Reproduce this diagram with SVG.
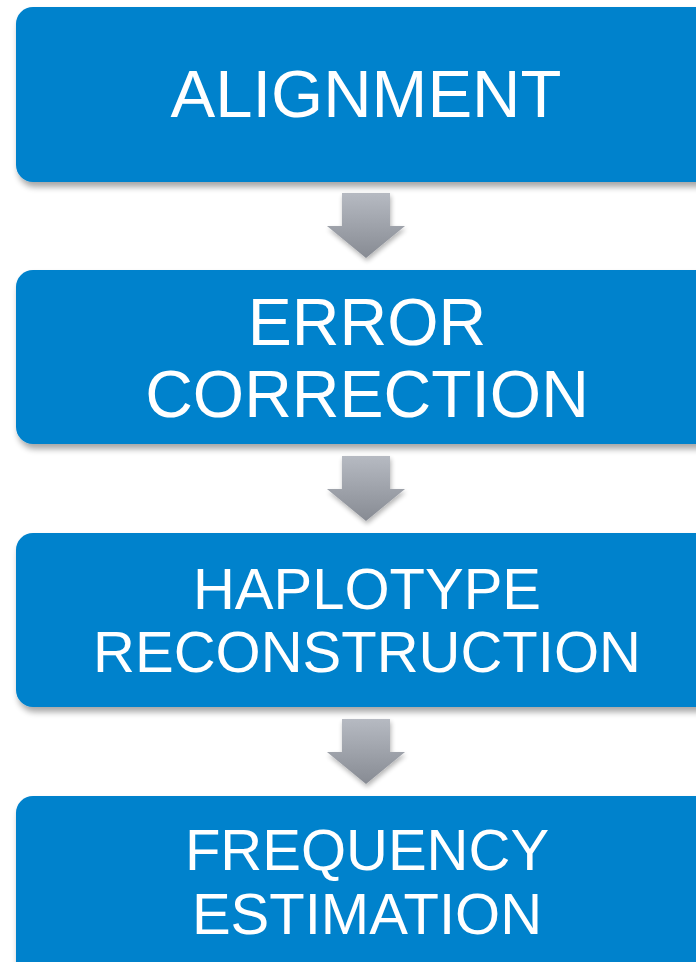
<svg xmlns="http://www.w3.org/2000/svg" width="696" height="962" viewBox="0 0 696 962">
<defs>
<filter id="sh" x="-10%" y="-10%" width="130%" height="140%">
<feGaussianBlur in="SourceAlpha" stdDeviation="3"/>
<feOffset dx="2" dy="5" result="b"/>
<feComponentTransfer><feFuncA type="linear" slope="0.35"/></feComponentTransfer>
<feMerge><feMergeNode/><feMergeNode in="SourceGraphic"/></feMerge>
</filter>
<filter id="ash" x="-30%" y="-30%" width="160%" height="160%">
<feGaussianBlur in="SourceAlpha" stdDeviation="2.5"/>
<feOffset dx="1" dy="3"/>
<feComponentTransfer><feFuncA type="linear" slope="0.3"/></feComponentTransfer>
<feMerge><feMergeNode/><feMergeNode in="SourceGraphic"/></feMerge>
</filter>
<linearGradient id="ag" x1="0" y1="0" x2="0" y2="1">
<stop offset="0" stop-color="#B6BAC2"/>
<stop offset="1" stop-color="#878B93"/>
</linearGradient>
</defs>
<style>
.box{fill:#0082CC;filter:url(#sh)}
.t{font-family:"Liberation Sans",Arial,sans-serif;fill:#FFFFFF;text-anchor:middle}
.arr{fill:url(#ag);filter:url(#ash)}
</style>
<rect width="696" height="962" fill="#FFFFFF"/>
<g id="connectors">
<path class="arr" d="M342,193 H390 V226 H405 L366,258 L327,226 H342 Z"/>
<path class="arr" d="M342,456 H390 V489 H405 L366,521 L327,489 H342 Z"/>
<path class="arr" d="M342,719 H390 V752 H405 L366,784 L327,752 H342 Z"/>
</g>
<g id="alignment">
<rect class="box" x="16" y="7" width="704" height="175" rx="17"/>
<text class="t" x="366" y="117" font-size="67">ALIGNMENT</text>
</g>
<g id="error-correction">
<rect class="box" x="16" y="270" width="704" height="174" rx="17"/>
<text class="t" x="367" y="345" font-size="66">ERROR</text>
<text class="t" x="367" y="417" font-size="66">CORRECTION</text>
</g>
<g id="haplotype-reconstruction">
<rect class="box" x="16" y="533" width="704" height="174" rx="17"/>
<text class="t" x="367" y="609" font-size="58">HAPLOTYPE</text>
<text class="t" x="367" y="672" font-size="58">RECONSTRUCTION</text>
</g>
<g id="frequency-estimation">
<rect class="box" x="16" y="796" width="704" height="200" rx="17"/>
<text class="t" x="367" y="870" font-size="58">FREQUENCY</text>
<text class="t" x="367" y="934" font-size="58">ESTIMATION</text>
</g>
</svg>
